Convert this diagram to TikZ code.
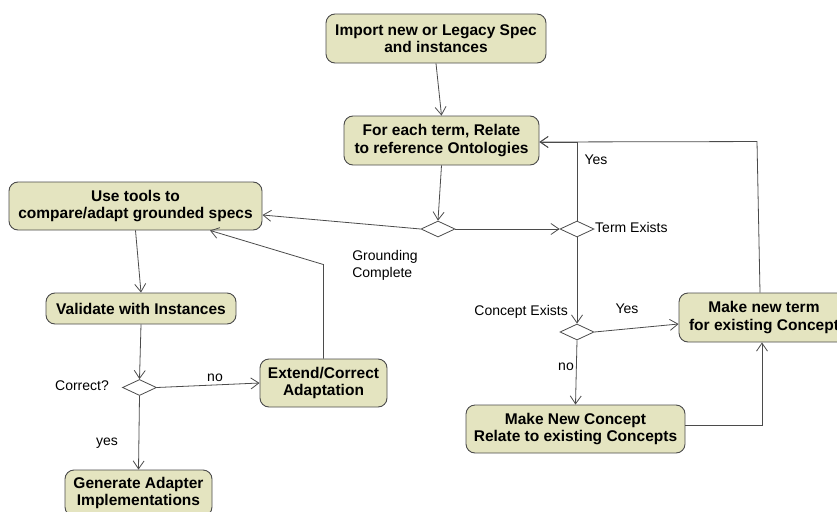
\documentclass[tikz,border=0pt]{standalone}
\usepackage{fontspec}
\setmainfont{Liberation Sans}
\usetikzlibrary{arrows.meta,shapes.geometric}
\definecolor{actfill}{RGB}{228,228,192}
\definecolor{actline}{RGB}{75,75,75}
\definecolor{edgec}{RGB}{75,75,75}
\begin{document}
\begin{tikzpicture}[x=1pt,y=-1pt,
  act/.style={draw=actline, line width=0.9pt, fill=actfill, rounded corners=9pt, inner sep=0pt, align=center,
     font=\bfseries\fontsize{15.5}{17.5}\selectfont},
  dec/.style={draw=actline, line width=0.8pt, fill=white, diamond, aspect=2.1, minimum width=34pt, minimum height=16pt, inner sep=0pt},
  lbl/.style={font=\fontsize{14}{17}\selectfont, inner sep=0pt, align=left},
  arr/.style={draw=edgec, line width=0.8pt, -{Straight Barb[length=8pt,width=11pt]}}]
\useasboundingbox (0,0) rectangle (837,511);

\node[act, minimum width=220pt, minimum height=49pt] (imp) at (436,38.5) {Import new or Legacy Spec\\and instances};
\node[act, minimum width=195pt, minimum height=49pt] (fe) at (441.5,140.5) {For each term, Relate\\to reference Ontologies};
\node[act, minimum width=253pt, minimum height=48pt] (ut) at (135.5,206) {Use tools to\\compare/adapt grounded specs};
\node[act, minimum width=190pt, minimum height=31pt] (va) at (141,308.5) {Validate with Instances};
\node[act, minimum width=127pt, minimum height=48pt] (ex) at (323.5,383) {Extend/Correct\\Adaptation};
\node[act, minimum width=147pt, minimum height=46pt] (ge) at (138.5,493) {Generate Adapter\\Implementations};
\node[act, minimum width=219pt, minimum height=48pt] (mc) at (575.5,429) {Make New Concept\\Relate to existing Concepts};
\node[act, minimum width=170pt, minimum height=49pt] (mt) at (764,317.5) {Make new term\\for existing Concept};

\node[dec] (gd) at (438,229) {};
\node[dec] (te) at (577,229) {};
\node[dec] (ce) at (577,332) {};
\node[dec] (cd) at (139.5,387.5) {};

\node[lbl] (lgc) at (385,265) {Grounding\\Complete};
\node[lbl, anchor=west] (lte) at (595,227) {Term Exists};
\node[lbl, anchor=east] (lce) at (568,312) {Concept Exists};
\node[lbl] (ly1) at (596,160) {Yes};
\node[lbl] (ly2) at (627,309) {Yes};
\node[lbl] (lno1) at (566,367) {no};
\node[lbl] (lcor) at (82,386) {Correct?};
\node[lbl] (lno2) at (215,378) {no};
\node[lbl] (lyes) at (107,443) {yes};

\draw[arr] (imp.south) -- (fe.north);
\draw[arr] (fe.south) -- (gd.north);
\draw[arr] (gd.west) -- ([yshift=-9pt]ut.east);
\draw[arr] (gd.east) -- (te.west);
\draw[arr] (te.north) |- ([yshift=-1.5pt]fe.east);
\draw[arr] ([xshift=-4pt]mt.north) -- ++(-3,-151) -- ([yshift=-1.5pt]fe.east);
\draw[arr] (te.south) -- (ce.north);
\draw[arr] (ce.east) -- ([yshift=-6.5pt]mt.west);
\draw[arr] (ce.south) -- (mc.north);
\draw[arr] ([yshift=4pt]mc.east) -| ([xshift=-2pt]mt.south);
\draw[arr] (ut.south) -- (va.north);
\draw[arr] (va.south) -- (cd.north);
\draw[arr] (cd.east) -- (ex.west);
\draw[arr] (cd.south) -- (ge.north);
\draw[arr] (ex.north) -- ++(0,-94) -- ([xshift=74.5pt]ut.south);
\end{tikzpicture}
\end{document}
